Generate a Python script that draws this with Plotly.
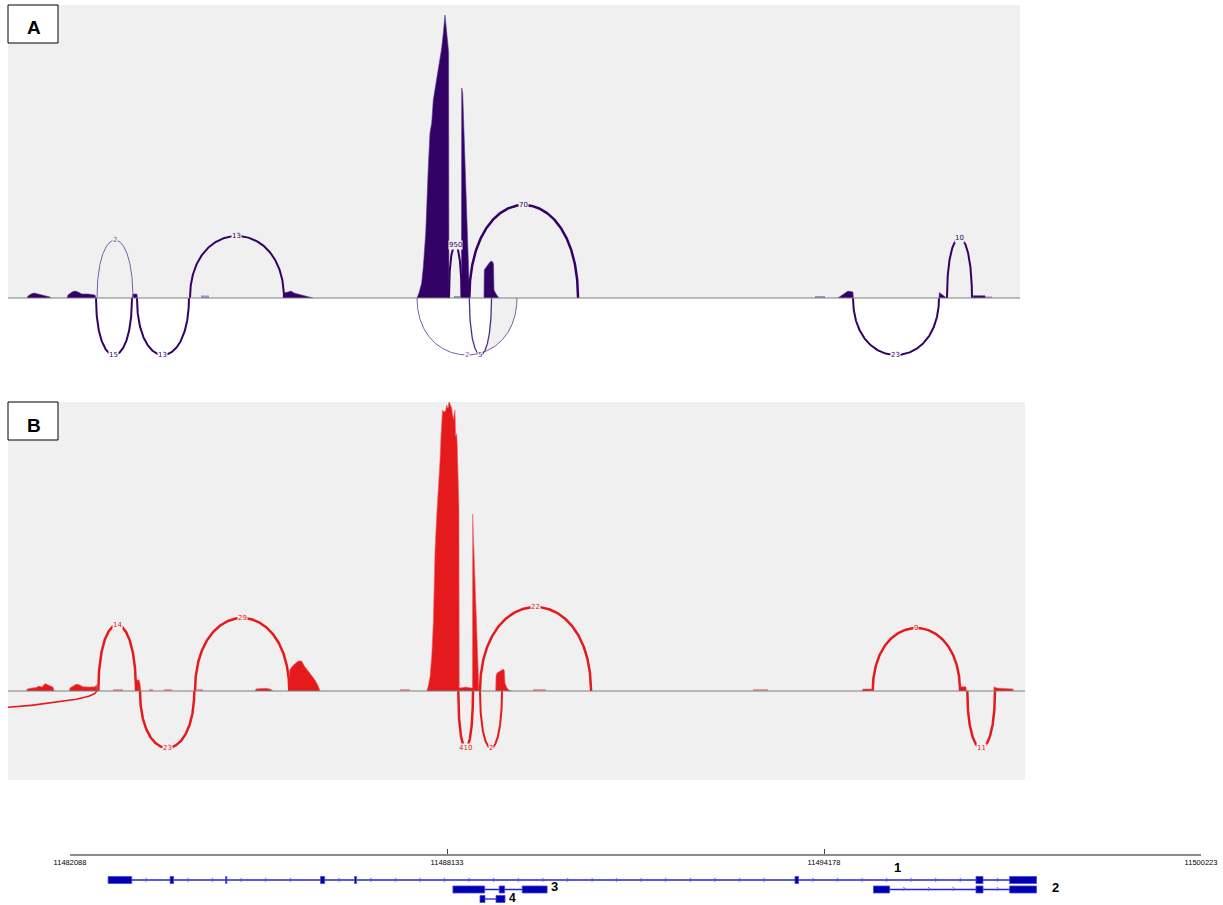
import numpy as np
import plotly.graph_objects as go

# ---------------- genomic axis ----------------
axis_ticks = [11482088, 11488133, 11494178, 11500223]
axis_tick_text = ["11482088", "11488133", "11494178", "11500223"]

# ---------------- Panel A coverage (genomic position, depth) ----------------
cov_a_pos = [
    [11481399, 11481415, 11481463, 11481511, 11481575, 11481639, 11481719, 11481767, 11481783],
    [11482040, 11482056, 11482120, 11482168, 11482216, 11482280, 11482377, 11482489, 11482505],
    [11483082, 11483098, 11483162, 11483170],
    [11485503, 11485519, 11485584, 11485632, 11485680, 11485744, 11485808, 11485872, 11485952, 11485984],
    [11487652, 11487684, 11487727, 11487753, 11487792, 11487808, 11487833, 11487860, 11487888, 11487913,
     11487957, 11487994, 11488021, 11488048, 11488074, 11488101, 11488117, 11488133, 11488149, 11488159, 11488165],
    [11488364, 11488369, 11488385, 11488406, 11488426, 11488449, 11488475, 11488491, 11488495],
    [11488726, 11488731, 11488774, 11488823, 11488855, 11488879, 11488887, 11488919, 11488967],
    [11494402, 11494451, 11494515, 11494563, 11494643, 11494648],
    [11496022, 11496027, 11496070, 11496118, 11496145],
    [11496567, 11496572, 11496760, 11496764],
]
cov_a_val = [
    [0, 2, 4, 5, 4, 3, 2, 1, 0],
    [0, 3, 6, 7, 6, 4, 4, 3, 0],
    [0, 4, 4, 0],
    [0, 5, 6, 7, 5, 4, 3, 2, 1, 0],
    [0, 5, 15, 31, 65, 98, 131, 165, 175, 198, 215, 231, 240, 250, 265, 283, 273, 263, 246, 246, 0],
    [0, 210, 205, 165, 130, 98, 31, 5, 0],
    [0, 28, 32, 36, 37, 34, 8, 4, 0],
    [0, 2, 5, 7, 6, 0],
    [0, 5.5, 3.5, 1.5, 0],
    [0, 2.3, 2.3, 0],
]
low_a_start = [11484189, 11488245, 11494034, 11496760]
low_a_end = [11484317, 11488342, 11494194, 11496872]
low_a_val = [2.5, 2, 2, 1.5]

# Panel A junctions
junc_a_start = [11482521, 11484012, 11488165, 11488491, 11496150, 11482505, 11483162, 11487652, 11488491, 11494643]
junc_a_end = [11483098, 11485519, 11488366, 11490234, 11496551, 11483082, 11483996, 11489255, 11488847, 11496022]
junc_a_count = [2, 13, 950, 70, 10, 15, 13, 2, 5, 23]
junc_a_apex = [58, 62, 53, 93, 60, -57, -57, -57, -57, -57]

# ---------------- Panel B coverage ----------------
cov_b_pos = [
    [11481394, 11481399, 11481479, 11481543, 11481591, 11481639, 11481687, 11481751, 11481815, 11481836],
    [11482077, 11482088, 11482136, 11482195, 11482248, 11482296, 11482409, 11482489, 11482516, 11482526],
    [11483146, 11483151, 11483194, 11483210, 11483226],
    [11485054, 11485070, 11485135, 11485231, 11485295, 11485343],
    [11485604, 11485609, 11485669, 11485749, 11485803, 11485856, 11485909, 11485964, 11486017, 11486069, 11486097],
    [11487808, 11487828, 11487860, 11487888, 11487913, 11487941, 11487968, 11487994, 11488021, 11488037,
     11488048, 11488061, 11488085, 11488109, 11488128, 11488149, 11488165, 11488189, 11488208, 11488234,
     11488261, 11488273, 11488289, 11488298, 11488314, 11488325, 11488330, 11488438, 11488526, 11488540,
     11488545, 11488566, 11488582, 11488601, 11488619, 11488635, 11488646],
    [11488914, 11488919, 11488935, 11488983, 11489036, 11489055, 11489063, 11489095, 11489127, 11489170],
    [11494787, 11494803, 11494948, 11494956],
    [11496359, 11496364, 11496455, 11496463],
    [11496899, 11496904, 11496952, 11497080, 11497209, 11497213],
]
cov_b_val = [
    [0, 2, 3, 3.5, 5, 4, 7.5, 6, 4, 0],
    [0, 3, 5, 7, 6, 4.3, 4, 4.3, 6.5, 0],
    [0, 11, 11, 8, 0],
    [0, 2, 2.5, 2.7, 2, 0],
    [0, 21, 26, 30, 30, 24, 20, 16, 11, 5, 0],
    [0, 4, 14, 35, 68, 141, 176, 199, 231, 256,
     268, 281, 279, 280, 286, 283, 290, 285, 283, 272,
     281, 255, 257, 246, 216, 183, 3, 4, 3, 3,
     177, 140, 114, 77, 41, 12, 0],
    [0, 15, 18, 20, 22, 20, 8, 3, 1, 0],
    [0, 2, 2, 0],
    [0, 4.3, 4.3, 0],
    [0, 4.3, 3, 2.3, 2, 0],
]
low_b_start = [11482778, 11483355, 11483595, 11484108, 11487379, 11489512, 11493040]
low_b_end = [11482938, 11483419, 11483724, 11484221, 11487540, 11489720, 11493280]
low_b_val = [2, 2, 2, 2, 2, 2, 2]

# Panel B junctions (last one starts far outside the view)
junc_b_start = [11482542, 11484092, 11488662, 11494959, 11483210, 11488314, 11488662, 11496476, 11402350]
junc_b_end = [11483146, 11485604, 11490442, 11496359, 11484081, 11488550, 11489015, 11496920, 11482516]
junc_b_count = [14, 29, 22, 9, 23, 410, 2, 11, None]
junc_b_apex = [66, 73, 84, 63, -57, -57, -57, -57, -57]

# ---------------- gene models ----------------
gene_names = ["1", "2", "3", "4"]
gene_strand = ["+", "+", "-", "-"]
gene_row = [0, -1, -1, -2]
gene_exons = [
    [(11482699, 11483079), (11483693, 11483749), (11484583, 11484602), (11486105, 11486172),
     (11486651, 11486682), (11493713, 11493769), (11496615, 11496728), (11497154, 11497585)],
    [(11494972, 11495230), (11496615, 11496728), (11497154, 11497585)],
    [(11488228, 11488737), (11488970, 11489057), (11489339, 11489738)],
    [(11488662, 11488742), (11488919, 11489063)],
]
gene_label_x = [11495349, 11497585, 11489738, 11489063]

# ---------------- styles ----------------
PURPLE = "#330066"
PURPLE_LIGHT = "#7a5ea6"
RED = "#E41A1C"
GRAY_BG = "#F0F0F0"
arc_a_width = [1, 2, 2, 2.5, 2, 2, 2, 1, 1.3, 2]
arc_a_color = [PURPLE_LIGHT, PURPLE, PURPLE, PURPLE, PURPLE, PURPLE, PURPLE, PURPLE_LIGHT, "#4e2d80", PURPLE]
arc_b_width = [2.5, 2.5, 2.5, 2.5, 2.5, 2.5, 2, 2.5, 1.6]


def arc_xy(x1, x2, apex, n=300):
    u = np.linspace(0, 1, n)
    t = (1 - np.cos(np.pi * u)) / 2
    X = x1 + (x2 - x1) * (3 * t ** 2 - 2 * t ** 3)
    Y = (apex / 0.75) * 3 * t * (1 - t)
    return X, Y


def concat_segments(pos_list, val_list):
    xs, ys = [], []
    for p, v in zip(pos_list, val_list):
        xs += list(p) + [None]
        ys += list(v) + [None]
    return xs, ys


def bars_xy(starts, ends, vals):
    xs, ys = [], []
    for s, e, v in zip(starts, ends, vals):
        xs += [s, s, e, e, None]
        ys += [0, v, v, 0, None]
    return xs, ys


fig = go.Figure()
annotations = []
shapes = []

# backgrounds
shapes.append(dict(type="rect", xref="x domain", yref="y", x0=0, x1=1, y0=0, y1=293,
                   fillcolor=GRAY_BG, line=dict(width=0), layer="below"))
shapes.append(dict(type="rect", xref="x2 domain", yref="y2 domain", x0=0, x1=1, y0=0, y1=1,
                   fillcolor=GRAY_BG, line=dict(width=0), layer="below"))

# ---- Panel A ----
# shaded wedge between the two lower arcs around the central exons
X2, Y2 = arc_xy(junc_a_start[7], junc_a_end[7], junc_a_apex[7])
X5, Y5 = arc_xy(junc_a_start[8], junc_a_end[8], junc_a_apex[8])
mid5 = (junc_a_start[8] + junc_a_end[8]) / 2
sel5 = X5 >= mid5
sel2 = X2 >= mid5
fig.add_trace(go.Scatter(x=list(X5[sel5]) + list(X2[sel2][::-1]), y=list(Y5[sel5]) + list(Y2[sel2][::-1]),
                         fill="toself", fillcolor=GRAY_BG, line=dict(width=0), mode="lines",
                         hoverinfo="skip", xaxis="x", yaxis="y"))

lx, ly = bars_xy(low_a_start, low_a_end, low_a_val)
fig.add_trace(go.Scatter(x=lx, y=ly, fill="toself", fillcolor="rgba(51,0,102,0.4)", mode="lines",
                         line=dict(width=0), xaxis="x", yaxis="y"))
cx, cy = concat_segments(cov_a_pos, cov_a_val)
fig.add_trace(go.Scatter(x=cx, y=cy, fill="toself", fillcolor=PURPLE, mode="lines",
                         line=dict(width=0.6, color="#5a3d85"), xaxis="x", yaxis="y"))

for i, (s, e, c, ap) in enumerate(zip(junc_a_start, junc_a_end, junc_a_count, junc_a_apex)):
    X, Y = arc_xy(s, e, ap)
    fig.add_trace(go.Scatter(x=X, y=Y, mode="lines", line=dict(color=arc_a_color[i], width=arc_a_width[i]),
                             xaxis="x", yaxis="y"))
    annotations.append(dict(x=(s + e) / 2, y=ap, xref="x", yref="y", text=str(c), showarrow=False,
                            font=dict(size=7, color=arc_a_color[i], family="DejaVu Sans"),
                            bgcolor=GRAY_BG if ap > 0 else "white", borderpad=0))

# ---- Panel B ----
lx, ly = bars_xy(low_b_start, low_b_end, low_b_val)
fig.add_trace(go.Scatter(x=lx, y=ly, fill="toself", fillcolor="rgba(228,26,28,0.4)", mode="lines",
                         line=dict(width=0), xaxis="x2", yaxis="y2"))
cx, cy = concat_segments(cov_b_pos, cov_b_val)
fig.add_trace(go.Scatter(x=cx, y=cy, fill="toself", fillcolor=RED, mode="lines",
                         line=dict(width=0.6, color="#ec6a6b"), xaxis="x2", yaxis="y2"))

for i, (s, e, c, ap) in enumerate(zip(junc_b_start, junc_b_end, junc_b_count, junc_b_apex)):
    X, Y = arc_xy(s, e, ap, n=300 if c is not None else 6000)
    fig.add_trace(go.Scatter(x=X, y=Y, mode="lines", line=dict(color=RED, width=arc_b_width[i]),
                             xaxis="x2", yaxis="y2"))
    if c is not None:
        annotations.append(dict(x=(s + e) / 2, y=ap, xref="x2", yref="y2", text=str(c), showarrow=False,
                                font=dict(size=7, color=RED, family="DejaVu Sans"),
                                bgcolor=GRAY_BG, borderpad=0))

# baselines
for xr, yr in (("x", "y"), ("x2", "y2")):
    shapes.append(dict(type="line", xref=xr + " domain", yref=yr, x0=0, x1=1, y0=0, y1=0,
                       line=dict(color="#7f7f7f", width=1.2), layer="above"))

# ---- gene track ----
EXON_H = 0.37
CHEV_STEP = 394
for gi, exons in enumerate(gene_exons):
    row = gene_row[gi]
    fig.add_trace(go.Scatter(x=[exons[0][0], exons[-1][1]], y=[row, row], mode="lines",
                             line=dict(color="#2323d8", width=1.3), xaxis="x3", yaxis="y3"))
    chev = []
    for (a0, a1), (b0, b1) in zip(exons[:-1], exons[1:]):
        p = a1 + CHEV_STEP * 0.6
        while p < b0 - CHEV_STEP * 0.3:
            chev.append(p)
            p += CHEV_STEP
    if chev:
        fig.add_trace(go.Scatter(x=chev, y=[row] * len(chev), mode="text",
                                 text=["›" if gene_strand[gi] == "+" else "‹"] * len(chev),
                                 textfont=dict(size=10, color="#5050ff", family="DejaVu Sans"),
                                 textposition="middle center", xaxis="x3", yaxis="y3"))
    for (e0, e1) in exons:
        shapes.append(dict(type="rect", xref="x3", yref="y3", x0=e0, x1=e1, y0=row - EXON_H, y1=row + EXON_H,
                           fillcolor="#0000B0", line=dict(color="#4c4cd0", width=0.8), layer="above"))

label_xanchor = ["center", "left", "left", "left"]
label_xshift = [0, 14, 2, 2]
label_yshift = [13, 2, 3, 1]
label_size = [13, 13, 13, 12]
for gi, name in enumerate(gene_names):
    annotations.append(dict(x=gene_label_x[gi], y=gene_row[gi], xref="x3", yref="y3", text="<b>%s</b>" % name,
                            showarrow=False, xanchor=label_xanchor[gi], xshift=label_xshift[gi],
                            yshift=label_yshift[gi],
                            font=dict(size=label_size[gi], color="black", family="Liberation Sans")))

# panel letter boxes
for letter, top in (("A", 5), ("B", 402)):
    shapes.append(dict(type="rect", xref="paper", yref="paper", x0=8 / 1223, x1=58 / 1223,
                       y0=1 - (top + 38) / 905, y1=1 - top / 905, fillcolor="white",
                       line=dict(color="black", width=1), layer="above"))
    annotations.append(dict(x=34 / 1223, y=1 - (top + 23) / 905, xref="paper", yref="paper",
                            text="<b>%s</b>" % letter, showarrow=False, xanchor="center", yanchor="middle",
                            font=dict(size=19, color="black", family="Liberation Sans")))

fig.update_layout(
    width=1223, height=905, margin=dict(l=0, r=0, t=0, b=0, pad=0, autoexpand=False), autosize=False,
    paper_bgcolor="white", plot_bgcolor="rgba(0,0,0,0)", showlegend=False,
    xaxis=dict(domain=[8 / 1223, 1020 / 1223], range=[11481094, 11497321], visible=False, anchor="y"),
    yaxis=dict(domain=[1 - 380 / 905, 1 - 5 / 905], range=[-82, 293], visible=False, anchor="x"),
    xaxis2=dict(domain=[8 / 1223, 1025 / 1223], range=[11481094, 11497401], visible=False, anchor="y2"),
    yaxis2=dict(domain=[1 - 780 / 905, 1 - 402 / 905], range=[-89, 289], visible=False, anchor="x2"),
    xaxis3=dict(domain=[70 / 1223, 1201 / 1223], range=[11482088, 11500223], anchor="free",
                position=1 - 855 / 905, showline=True, linecolor="#8c8c8c", linewidth=2,
                ticks="inside", ticklen=5, tickwidth=1, tickcolor="#444444", automargin=False,
                tickvals=axis_ticks, ticktext=axis_tick_text, showgrid=False, zeroline=False,
                tickfont=dict(size=7.5, family="Liberation Sans", color="black")),
    yaxis3=dict(domain=[0, 1 - 858 / 905], range=[-2.632, 2.316], visible=False, anchor="x3"),
    shapes=shapes, annotations=annotations,
)

fig.write_html("out.html")
